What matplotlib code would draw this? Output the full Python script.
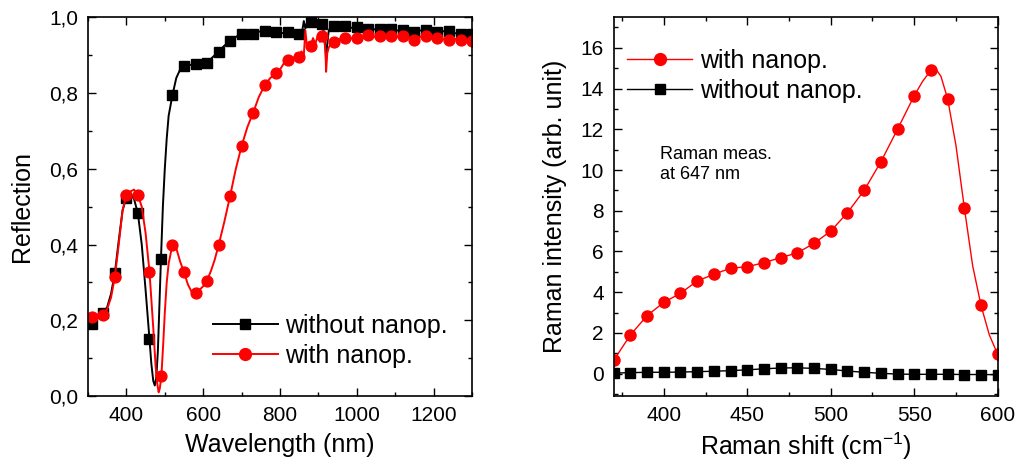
import matplotlib
matplotlib.use("Agg")
import matplotlib.pyplot as plt
from matplotlib.lines import Line2D
from matplotlib.ticker import MultipleLocator
import numpy as np

plt.rcParams['font.family'] = ['Liberation Sans', 'DejaVu Sans']
plt.rcParams['mathtext.default'] = 'regular'

# ---- left panel: reflection spectra ----
# dense traces
wl_without = [300, 310, 320, 330, 340, 350, 360, 370, 380, 390, 400, 410, 420, 430,
              440, 450, 460, 465, 470, 474, 478, 482, 486, 490, 495, 500, 505, 510,
              520, 530, 540, 550, 565, 580, 595, 610, 625, 640, 655, 670, 685, 700,
              715, 730, 745, 760, 775, 790, 805, 820, 835, 850, 858, 862, 866, 870,
              875, 880, 885, 890, 895, 900, 905, 910, 914, 918, 920, 923, 927, 932,
              940, 955, 970, 985, 1000, 1015, 1030, 1045, 1060, 1075, 1090, 1105,
              1120, 1135, 1150, 1165, 1180, 1195, 1210, 1225, 1240, 1255, 1270, 1285, 1300]
refl_without = [0.185, 0.19, 0.205, 0.215, 0.22, 0.235, 0.27, 0.325, 0.41, 0.49, 0.525,
                0.535, 0.52, 0.482, 0.40, 0.28, 0.152, 0.085, 0.04, 0.028, 0.05, 0.12,
                0.24, 0.362, 0.50, 0.60, 0.68, 0.74, 0.795, 0.84, 0.862, 0.872, 0.874,
                0.876, 0.877, 0.88, 0.895, 0.909, 0.925, 0.936, 0.948, 0.957, 0.955,
                0.957, 0.962, 0.964, 0.96, 0.961, 0.958, 0.961, 0.963, 0.957, 0.965,
                0.99, 0.97, 0.985, 0.975, 0.988, 0.995, 0.975, 0.99, 0.98, 0.99, 0.982,
                0.96, 0.92, 0.888, 0.93, 0.965, 0.975, 0.977, 0.975, 0.978, 0.972,
                0.975, 0.97, 0.97, 0.968, 0.97, 0.966, 0.968, 0.965, 0.967, 0.962,
                0.96, 0.965, 0.967, 0.96, 0.96, 0.963, 0.963, 0.958, 0.957, 0.96, 0.957]
wl_with = [300, 310, 320, 330, 340, 350, 360, 370, 380, 390, 400, 410, 420, 430, 440,
           450, 460, 470, 476, 480, 484, 487, 491, 496, 500, 505, 510, 520, 530, 540,
           550, 560, 570, 580, 590, 600, 610, 620, 630, 640, 655, 670, 685, 700, 715,
           730, 745, 760, 775, 790, 800, 805, 812, 820, 828, 835, 842, 850, 856, 862,
           866, 870, 875, 880, 886, 892, 898, 904, 910, 914, 918, 920, 923, 927, 932,
           940, 955, 970, 985, 1000, 1015, 1030, 1045, 1060, 1075, 1090, 1105, 1120,
           1135, 1150, 1165, 1180, 1195, 1210, 1225, 1240, 1255, 1270, 1285, 1300]
refl_with = [0.205, 0.21, 0.215, 0.215, 0.215, 0.23, 0.26, 0.315, 0.40, 0.49, 0.53,
             0.54, 0.545, 0.53, 0.50, 0.43, 0.33, 0.18, 0.08, 0.035, 0.01, 0.02, 0.052,
             0.14, 0.22, 0.30, 0.35, 0.40, 0.39, 0.355, 0.327, 0.295, 0.275, 0.272,
             0.28, 0.29, 0.305, 0.33, 0.36, 0.398, 0.46, 0.528, 0.60, 0.66, 0.71,
             0.748, 0.79, 0.82, 0.84, 0.852, 0.862, 0.87, 0.882, 0.888, 0.875, 0.89,
             0.905, 0.895, 0.91, 0.9, 0.965, 0.925, 0.93, 0.925, 0.945, 0.93, 0.95,
             0.935, 0.955, 0.945, 0.92, 0.856, 0.905, 0.92, 0.93, 0.935, 0.942,
             0.946, 0.944, 0.946, 0.948, 0.952, 0.948, 0.95, 0.946, 0.95, 0.948,
             0.95, 0.945, 0.941, 0.948, 0.95, 0.944, 0.946, 0.942, 0.941, 0.943,
             0.94, 0.939, 0.938]

# symbol positions
wl_marks = [310, 340, 370, 400, 430, 460, 490, 520, 550, 580, 610, 640, 670, 700,
            730, 760, 790, 820, 850, 880, 910, 940, 970, 1000, 1030, 1060, 1090,
            1120, 1150, 1180, 1210, 1240, 1270, 1300]
marks_without = [0.19, 0.22, 0.325, 0.523, 0.482, 0.152, 0.362, 0.795, 0.872, 0.876,
                 0.88, 0.909, 0.936, 0.957, 0.957, 0.964, 0.961, 0.961, 0.957, 0.988,
                 0.982, 0.977, 0.978, 0.975, 0.97, 0.97, 0.968, 0.967, 0.96, 0.967,
                 0.96, 0.963, 0.957, 0.957]
marks_with = [0.21, 0.215, 0.315, 0.53, 0.53, 0.328, 0.052, 0.40, 0.327, 0.273,
              0.305, 0.398, 0.528, 0.66, 0.748, 0.82, 0.854, 0.888, 0.895, 0.925,
              0.95, 0.935, 0.946, 0.946, 0.952, 0.95, 0.95, 0.95, 0.941, 0.95,
              0.946, 0.941, 0.94, 0.938]
refl_ticklabels = ["0,0", "0,2", "0,4", "0,6", "0,8", "1,0"]

# ---- right panel: Raman ----
shift_marks = [370, 380, 390, 400, 410, 420, 430, 440, 450, 460, 470, 480, 490, 500,
               510, 520, 530, 540, 550, 560, 570, 580, 590, 600]
raman_with = [0.65, 1.9, 2.85, 3.5, 3.95, 4.55, 4.88, 5.18, 5.25, 5.45, 5.7, 5.93,
              6.4, 7.0, 7.9, 9.0, 10.4, 12.0, 13.65, 14.9, 13.5, 8.15, 3.35, 0.95]
raman_without = [0.03, 0.05, 0.07, 0.07, 0.08, 0.1, 0.12, 0.15, 0.19, 0.24, 0.28,
                 0.29, 0.26, 0.21, 0.13, 0.07, 0.02, -0.02, -0.03, -0.03, -0.03,
                 -0.04, -0.04, -0.05]
# extra points on the smooth red trace near the peak
shift_line = [370, 380, 390, 400, 410, 420, 430, 440, 450, 460, 470, 480, 490, 500,
              510, 520, 530, 540, 550, 555, 560, 563, 566, 570, 575, 580, 585, 590,
              595, 600]
raman_line = [0.65, 1.9, 2.85, 3.5, 3.95, 4.55, 4.88, 5.18, 5.25, 5.45, 5.7, 5.93,
              6.4, 7.0, 7.9, 9.0, 10.4, 12.0, 13.65, 14.35, 14.9, 14.95, 14.6, 13.5,
              11.2, 8.15, 5.3, 3.35, 1.9, 0.95]

RED = "#ff0000"

fig = plt.figure(figsize=(10.16, 4.66), dpi=100)
ax1 = fig.add_axes([0.0866, 0.150, 0.378, 0.813])
ax2 = fig.add_axes([0.604, 0.150, 0.378, 0.813])

# left
ax1.plot(wl_without, refl_without, color="black", lw=1.4)
ax1.plot(wl_marks, marks_without, ls="none", marker="s", ms=6.8, color="black")
ax1.plot(wl_with, refl_with, color=RED, lw=1.4)
ax1.plot(wl_marks, marks_with, ls="none", marker="o", ms=7.8, color=RED)
ax1.set_xlim(300, 1300)
ax1.set_ylim(0, 1.0)
ax1.xaxis.set_major_locator(MultipleLocator(200))
ax1.xaxis.set_minor_locator(MultipleLocator(100))
ax1.set_yticks(np.arange(0, 1.01, 0.2))
ax1.set_yticklabels(refl_ticklabels)
ax1.yaxis.set_minor_locator(MultipleLocator(0.1))
ax1.set_xlabel("Wavelength (nm)", fontsize=18, labelpad=6)
ax1.set_ylabel("Reflection", fontsize=18, labelpad=11)
h1 = [Line2D([], [], color="black", lw=1.4, marker="s", ms=7.5),
      Line2D([], [], color=RED, lw=1.4, marker="o", ms=8.5)]
ax1.legend(h1, ["without nanop.", "with nanop."], loc="center left",
           bbox_to_anchor=(0.325, 0.146), frameon=False, fontsize=18,
           handlelength=2.6, handletextpad=0.3, borderpad=0, borderaxespad=0,
           labelspacing=0.25)

# right
ax2.plot(shift_line, raman_line, color=RED, lw=1.0)
ax2.plot(shift_marks, raman_with, ls="none", marker="o", ms=8, color=RED)
ax2.plot(shift_marks, raman_without, color="black", lw=1.0, marker="s", ms=6.5)
ax2.set_xlim(370, 600)
ax2.set_ylim(-1.1, 17.5)
ax2.xaxis.set_major_locator(MultipleLocator(50))
ax2.xaxis.set_minor_locator(MultipleLocator(25))
ax2.yaxis.set_major_locator(MultipleLocator(2))
ax2.yaxis.set_minor_locator(MultipleLocator(1))
ax2.set_xlabel("Raman shift (cm$^{-1}$)", fontsize=18, labelpad=4)
ax2.set_ylabel("Raman intensity (arb. unit)", fontsize=18, labelpad=10)
ax2.text(397.5, 11.2, "Raman meas.\nat 647 nm", fontsize=13, va="top",
         linespacing=1.3)
h2 = [Line2D([], [], color=RED, lw=1.0, marker="o", ms=8.5),
      Line2D([], [], color="black", lw=1.0, marker="s", ms=6.5)]
ax2.legend(h2, ["with nanop.", "without nanop."], loc="center left",
           bbox_to_anchor=(0.035, 0.845), frameon=False, fontsize=18,
           handlelength=2.6, handletextpad=0.3, borderpad=0, borderaxespad=0,
           labelspacing=0.25)

for ax in (ax1, ax2):
    ax.tick_params(which="both", direction="in", top=True, right=True,
                   labelsize=15, width=1.0)
    ax.tick_params(which="major", length=6, pad=7)
    ax.tick_params(which="minor", length=3)
    for s in ax.spines.values():
        s.set_linewidth(1.2)

fig.savefig("out.png", dpi=100)
